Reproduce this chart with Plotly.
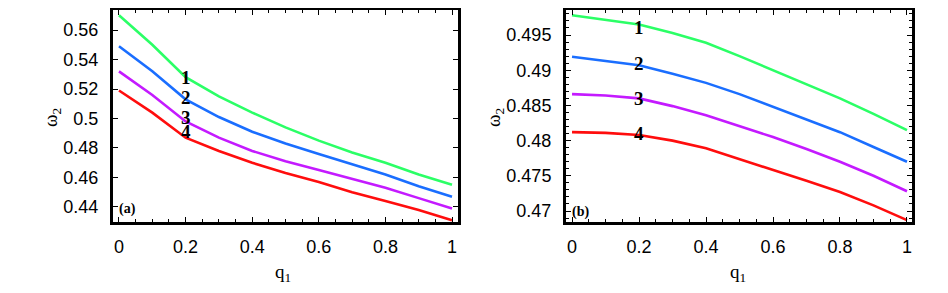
import plotly.graph_objects as go

q1 = [0.0, 0.1, 0.2, 0.3, 0.4, 0.5, 0.6, 0.7, 0.8, 0.9, 1.0]

# panel (a)
a1 = [0.570, 0.550, 0.528, 0.515, 0.504, 0.494, 0.485, 0.477, 0.470, 0.462, 0.455]
a2 = [0.549, 0.532, 0.513, 0.501, 0.491, 0.483, 0.476, 0.469, 0.462, 0.454, 0.447]
a3 = [0.532, 0.516, 0.498, 0.487, 0.478, 0.471, 0.465, 0.459, 0.453, 0.446, 0.439]
a4 = [0.519, 0.504, 0.487, 0.478, 0.470, 0.463, 0.457, 0.450, 0.444, 0.438, 0.431]

# panel (b)
b1 = [0.4978, 0.4972, 0.4965, 0.4953, 0.4939, 0.4920, 0.4900, 0.4880, 0.4860, 0.4838, 0.4815]
b2 = [0.4919, 0.4913, 0.4907, 0.4895, 0.4882, 0.4866, 0.4848, 0.4830, 0.4812, 0.4791, 0.4770]
b3 = [0.4866, 0.4864, 0.4860, 0.4849, 0.4836, 0.4821, 0.4805, 0.4788, 0.4770, 0.4750, 0.4728]
b4 = [0.4812, 0.4811, 0.4808, 0.4800, 0.4789, 0.4774, 0.4758, 0.4743, 0.4727, 0.4708, 0.4687]

curve_labels = ["1", "2", "3", "4"]
label_a_y = [0.528, 0.514, 0.501, 0.491]
label_b_y = [0.4960, 0.4910, 0.4860, 0.4810]
label_q = 0.2

colors = ["#2bff66", "#1a6eff", "#c41aff", "#ff0d0d"]

a_xticks = [0, 0.2, 0.4, 0.6, 0.8, 1]
a_xtext = ["0", "0.2", "0.4", "0.6", "0.8", "1"]
a_yticks = [0.44, 0.46, 0.48, 0.50, 0.52, 0.54, 0.56]
a_ytext = ["0.44", "0.46", "0.48", "0.5", "0.52", "0.54", "0.56"]
b_yticks = [0.47, 0.475, 0.48, 0.485, 0.49, 0.495]
b_ytext = ["0.47", "0.475", "0.48", "0.485", "0.49", "0.495"]

# the page body adds an 8 px offset, so the figure is 8 px smaller
W, H = 940, 285
T, B = 2, 71
PH = H - T - B

fig = go.Figure()

for ys, c in zip([a1, a2, a3, a4], colors):
    fig.add_trace(go.Scatter(x=q1, y=ys, mode="lines", line=dict(color=c, width=2.6),
                             xaxis="x", yaxis="y", showlegend=False))
for ys, c in zip([b1, b2, b3, b4], colors):
    fig.add_trace(go.Scatter(x=q1, y=ys, mode="lines", line=dict(color=c, width=2.6),
                             xaxis="x2", yaxis="y2", showlegend=False))

tickfont = dict(family="Liberation Sans Narrow, Liberation Sans, Arial, sans-serif", size=18, color="black")
common = dict(showline=True, linewidth=3, linecolor="black", mirror="ticks",
              ticks="inside", ticklen=5, tickwidth=1, tickcolor="black",
              showgrid=False, zeroline=False, tickfont=tickfont)

fig.update_layout(
    width=W, height=H,
    margin=dict(l=0, r=0, t=T, b=B),
    plot_bgcolor="white", paper_bgcolor="white",
    xaxis=dict(domain=[105 / W, 450 / W], range=[-0.018, 1.018], anchor="y",
               tickvals=a_xticks, ticktext=a_xtext,
               minor=dict(dtick=0.05, ticks="inside", ticklen=3, tickcolor="black"),
               ticklabelstandoff=6, **common),
    yaxis=dict(domain=[0, 1], range=[0.4298, 0.5736], anchor="x",
               tickvals=a_yticks, ticktext=a_ytext, ticklabelstandoff=8, **common),
    xaxis2=dict(domain=[558 / W, 904 / W], range=[-0.018, 1.015], anchor="y2",
                tickvals=a_xticks, ticktext=a_xtext,
                minor=dict(dtick=0.05, ticks="inside", ticklen=3, tickcolor="black"),
                ticklabelstandoff=6, **common),
    yaxis2=dict(domain=[0, 1], range=[0.46844, 0.49855], anchor="x2",
                tickvals=b_yticks, ticktext=b_ytext,
                minor=dict(dtick=0.001, ticks="inside", ticklen=3, tickcolor="black"),
                ticklabelstandoff=8, **common),
)

labfont = dict(family="Liberation Serif, Times New Roman, serif", size=19, color="black")
ann = []
for t, y in zip(curve_labels, label_a_y):
    ann.append(dict(x=label_q, y=y, xref="x", yref="y", text="<b>" + t + "</b>",
                    showarrow=False, font=labfont))
for t, y in zip(curve_labels, label_b_y):
    ann.append(dict(x=label_q, y=y, xref="x2", yref="y2", text="<b>" + t + "</b>",
                    showarrow=False, font=labfont))

pfont = dict(family="Liberation Serif, Times New Roman, serif", size=14, color="black")
ann.append(dict(x=0.012, y=0.061, xref="x domain", yref="y domain", text="<b>(a)</b>",
                showarrow=False, xanchor="left", yanchor="middle", font=pfont))
ann.append(dict(x=0.012, y=0.047, xref="x2 domain", yref="y2 domain", text="<b>(b)</b>",
                showarrow=False, xanchor="left", yanchor="middle", font=pfont))


def py(fy):
    return (H - B - fy) / PH


tfont = dict(family="Liberation Serif, Times New Roman, serif", size=19, color="black")
for xc in [275, 730]:
    ann.append(dict(x=xc / W, y=py(265), xref="paper", yref="paper", text="q<sub>1</sub>",
                    showarrow=False, font=tfont, xanchor="center", yanchor="middle"))
for xc in [44, 487]:
    ann.append(dict(x=xc / W, y=py(110), xref="paper", yref="paper", text="ω<sub>2</sub>",
                    showarrow=False, font=tfont, textangle=-90,
                    xanchor="center", yanchor="middle"))
fig.update_layout(annotations=ann)

fig.write_html("out.html")
